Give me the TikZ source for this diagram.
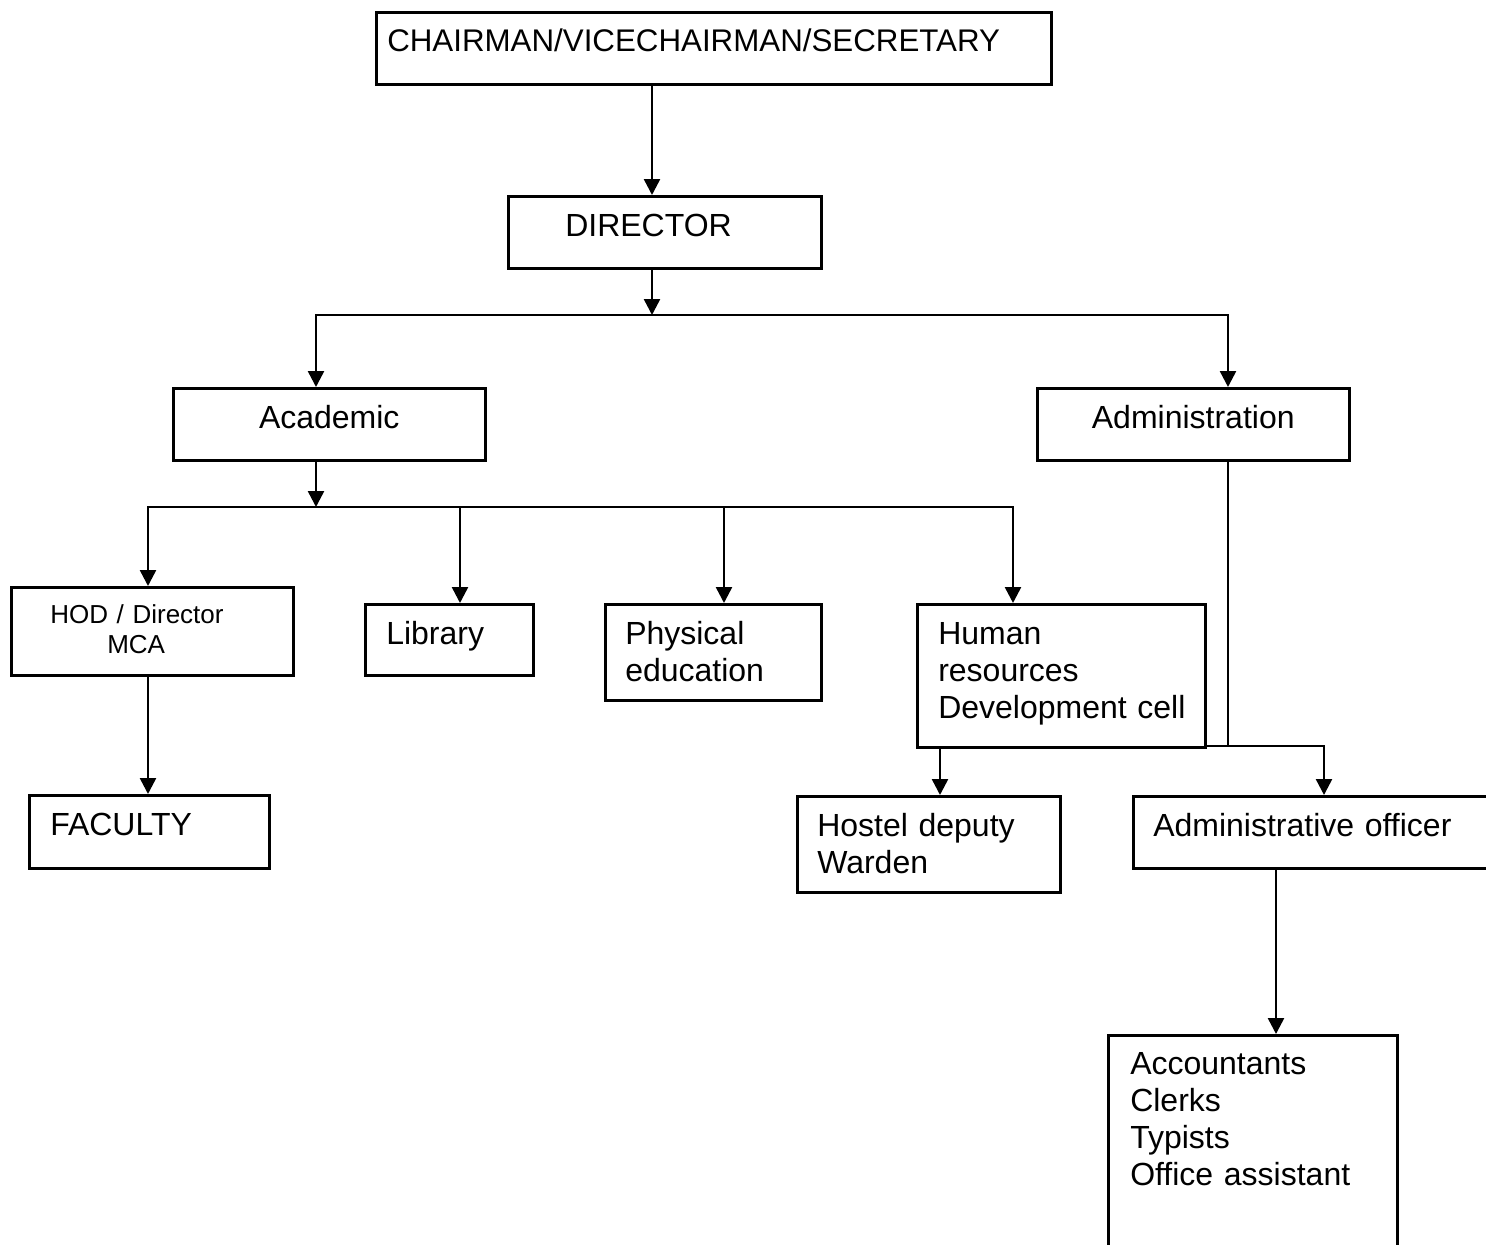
\documentclass[tikz,border=0pt]{standalone}
\usepackage{fontspec}
\setmainfont{Liberation Sans}
\usetikzlibrary{arrows.meta}
\newcommand{\boxfont}{\fontsize{32}{37}\selectfont}
\tikzset{
  orgbox/.style={draw, line width=2.5pt, anchor=north west, align=left, inner ysep=0pt, text height=40pt, font=\boxfont},
  link/.style={line width=2.5pt, line cap=rect},
  arr/.style={line width=2.5pt, -{Triangle[width=16pt,length=16pt]}}
}
\begin{document}
\begin{tikzpicture}[x=1pt,y=-1pt]
\useasboundingbox (0,0) rectangle (1486,1245);
\fill[white] (0,0) rectangle (1486,1245);
\clip (0,0) rectangle (1486,1245);
% boxes
\node[orgbox, inner xsep=11pt, text width=653pt, text height=39pt, text depth=33pt, font={\fontsize{31.3}{36}\selectfont}] (chair) at (375,11) {CHAIRMAN/VICECHAIRMAN/SECRETARY};
\node[orgbox, inner xsep=57pt, text width=199pt, text depth=32pt] (director) at (507,195) {DIRECTOR};
\node[orgbox, align=center, inner xsep=10pt, text width=292pt, text depth=32pt] (academic) at (172,387) {Academic};
\node[orgbox, align=center, inner xsep=10pt, text width=292pt, text depth=32pt] (admin) at (1036,387) {Administration};
\node[orgbox, inner xsep=39pt, text width=204pt, text height=36pt, text depth=52pt, font={\fontsize{26}{30}\selectfont}] (hod) at (10,586) {HOD / Director\\\hspace*{57pt}MCA};
\node[orgbox, inner xsep=21pt, text width=126pt, text depth=31pt] (library) at (364,603) {Library};
\node[orgbox, inner xsep=20pt, text width=176pt, text depth=56pt] (phys) at (604,603) {Physical\\education};
\node[orgbox, inner xsep=21pt, text width=246pt, text depth=103pt] (hrd) at (916,603) {Human\\resources\\Development~cell};
\node[orgbox, inner xsep=21pt, text width=198pt, text depth=33pt] (faculty) at (28,794) {FACULTY};
\node[orgbox, inner xsep=20pt, text width=223pt, text depth=56pt] (hostel) at (796,795) {Hostel deputy\\Warden};
\node[orgbox, inner xsep=20pt, text width=340pt, text depth=32pt] (adminoff) at (1132,795) {Administrative officer};
\node[orgbox, inner xsep=22pt, text width=245pt, text height=39pt, text depth=201pt] (acc) at (1107,1034) {Accountants\\Clerks\\Typists\\Office assistant};
% top levels
\coordinate (c0) at (652,315);
\coordinate (c1) at (316,315);
\coordinate (c2) at (1228,315);
\draw[arr] (chair.south -| c0) -- (director.north -| c0);
\draw[arr] (director.south -| c0) -- (c0);
\draw[link] (c1) -- (c2);
\draw[arr] (c1) -- (academic.north -| c1);
\draw[arr] (c2) -- (admin.north -| c2);
% academic side
\coordinate (a0) at (316,507);
\coordinate (a1) at (148,507);
\coordinate (a2) at (460,507);
\coordinate (a3) at (724,507);
\coordinate (a4) at (1013,507);
\draw[arr] (academic.south -| a0) -- (a0);
\draw[link] (a1) -- (a4);
\foreach \p/\n in {a1/hod, a2/library, a3/phys, a4/hrd}
  \draw[arr] (\p) -- (\n.north -| \p);
\draw[arr] (hod.south -| a1) -- (faculty.north -| a1);
% administration side
\coordinate (h1) at (940,746);
\coordinate (h2) at (1324,746);
\coordinate (e0) at (1276,1000);
\draw[link] (admin.south -| c2) -- (c2 |- h2);
\draw[link] (hrd.east |- h2) -- (h2);
\draw[arr] (h1) -- (hostel.north -| h1);
\draw[arr] (h2) -- (adminoff.north -| h2);
\draw[arr] (adminoff.south -| e0) -- (acc.north -| e0);
\end{tikzpicture}
\end{document}
